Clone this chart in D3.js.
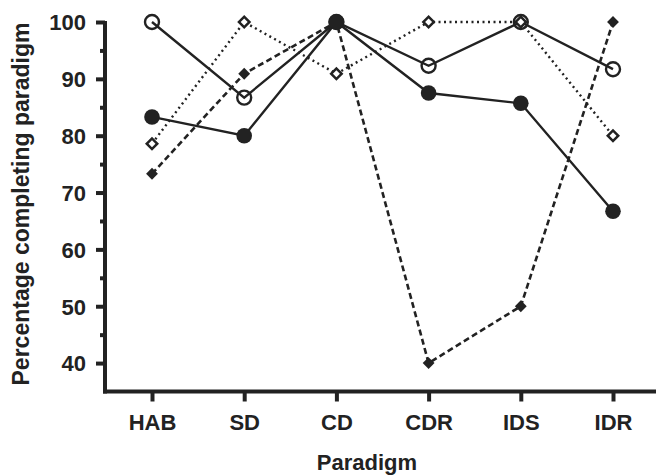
<!DOCTYPE html>
<html><head><meta charset="utf-8">
<script src="https://cdn.jsdelivr.net/npm/d3@7"></script>
<style>body{margin:0;background:#fff}svg{display:block}text{font-family:"Liberation Sans",Arial,sans-serif;font-weight:bold;fill:#222}</style>
</head><body><svg id="c" width="656" height="475"></svg>
<script>
const categories = ["HAB","SD","CD","CDR","IDS","IDR"];
const openCircle = [100, 86.7, 100, 92.3, 100, 91.7];
const filledCircle = [83.3, 80, 100, 87.5, 85.7, 66.7];
const openDiamond = [78.6, 100, 90.9, 100, 100, 80];
const filledDiamond = [73.3, 90.9, 100, 40, 50, 100];
const yTicks = [40, 50, 60, 70, 80, 90, 100];
const yMinorTicks = [45, 55, 65, 75, 85, 95];

const ink = "#222";
const svg = d3.select("#c");
const x = d3.scalePoint().domain(categories).range([152, 613]);
const y = d3.scaleLinear().domain([35, 100]).range([391.5, 22]);

// axes
const yAxis = svg.append("g").attr("transform","translate(105,0)")
  .call(d3.axisLeft(y).tickValues(yTicks).tickSize(9).tickPadding(10).tickSizeOuter(0));
yAxis.select(".domain").attr("stroke", ink).attr("stroke-width", 4).attr("d", `M0,${y(100)-1}V${y(35)+2}`);
yAxis.selectAll(".tick line").attr("stroke", ink).attr("stroke-width", 4);
yAxis.selectAll(".tick text").attr("font-size", 22).attr("fill", ink).attr("dy","0.36em");
svg.append("g").attr("transform","translate(105,0)")
  .call(d3.axisLeft(y).tickValues(yMinorTicks).tickSize(5).tickFormat(""))
  .call(g=>g.select(".domain").remove())
  .selectAll(".tick line").attr("stroke", ink).attr("stroke-width", 4);

const xAxis = svg.append("g").attr("transform","translate(0,391.5)")
  .call(d3.axisBottom(x).tickSize(10).tickPadding(13).tickSizeOuter(0));
xAxis.select(".domain").attr("stroke", ink).attr("stroke-width", 4).attr("d","M103,0H656");
xAxis.selectAll(".tick line").attr("stroke", ink).attr("stroke-width", 4);
xAxis.selectAll(".tick text").attr("font-size", 22).attr("fill", ink);

svg.append("text").attr("x", 367).attr("y", 470).attr("text-anchor","middle")
  .attr("font-size", 22).text("Paradigm");
svg.append("text").attr("transform","translate(29,204) rotate(-90)").attr("text-anchor","middle")
  .attr("font-size", 23).text("Percentage completing paradigm");

const line = d3.line().x((d,i)=>x(categories[i])).y(d=>y(d));

function series(vals, dash, width){
  svg.append("path").datum(vals).attr("d", line).attr("fill","none")
    .attr("stroke", ink).attr("stroke-width", width).attr("stroke-dasharray", dash);
}
series(openDiamond, "2,3.5", 2.4);
series(filledDiamond, "6,3.5", 2.6);
series(openCircle, null, 2.4);
series(filledCircle, null, 2.4);

svg.append("g").selectAll("path").data(openDiamond).join("path")
  .attr("transform",(d,i)=>`translate(${x(categories[i])},${y(d)}) rotate(45)`)
  .attr("d", d3.symbol().type(d3.symbolSquare).size(55)())
  .attr("fill","#fff").attr("stroke", ink).attr("stroke-width", 2.5);
svg.append("g").selectAll("path").data(filledDiamond).join("path")
  .attr("transform",(d,i)=>`translate(${x(categories[i])},${y(d)}) rotate(45)`)
  .attr("d", d3.symbol().type(d3.symbolSquare).size(70)())
  .attr("fill", ink);
svg.append("g").selectAll("circle").data(openCircle).join("circle")
  .attr("cx",(d,i)=>x(categories[i])).attr("cy", d=>y(d)).attr("r", 7)
  .attr("fill","none").attr("stroke", ink).attr("stroke-width", 2.4);
svg.append("g").selectAll("circle").data(filledCircle).join("circle")
  .attr("cx",(d,i)=>x(categories[i])).attr("cy", d=>y(d)).attr("r", 7.8)
  .attr("fill", ink);
</script></body></html>
